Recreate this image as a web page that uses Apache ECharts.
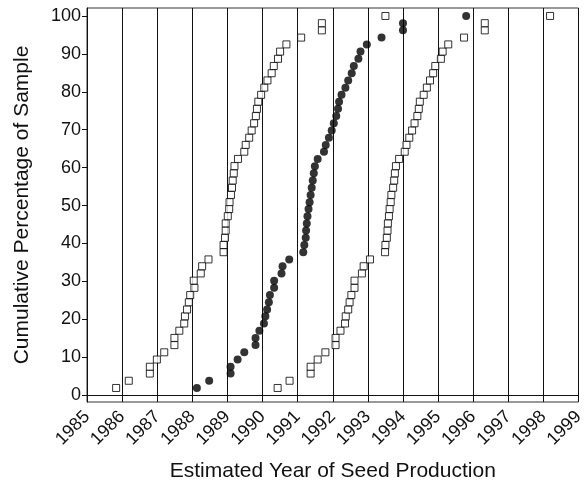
<!DOCTYPE html>
<html>
<head>
<meta charset="utf-8">
<title>Estimated Year of Seed Production</title>
<script src="https://cdn.jsdelivr.net/npm/echarts@6/dist/echarts.min.js"></script>
<style>
  html, body { margin: 0; padding: 0; background: #fff; }
  #chart { width: 587px; height: 487px; }
</style>
</head>
<body>
<div id="chart"></div>
<script>
// cumulative percentage of sample (same steps for each series)
const cumPercent = [1.9, 3.8, 5.7, 7.5, 9.4, 11.3, 13.2, 15.1, 17.0, 18.9, 20.8, 22.6, 24.5, 26.4, 28.3,
  30.2, 32.1, 34.0, 35.8, 37.7, 39.6, 41.5, 43.4, 45.3, 47.2, 49.1, 50.9, 52.8, 54.7, 56.6, 58.5, 60.4,
  62.3, 64.2, 66.0, 67.9, 69.8, 71.7, 73.6, 75.5, 77.4, 79.2, 81.1, 83.0, 84.9, 86.8, 88.7, 90.6, 92.5,
  94.3, 96.2, 98.1, 100]

// estimated year, open squares (early group)
const yearsEarly = [1985.83, 1986.19, 1986.79, 1986.79, 1986.99, 1987.20, 1987.49, 1987.49, 1987.63, 1987.77,
  1987.79, 1987.85, 1987.90, 1987.94, 1988.06, 1988.04, 1988.24, 1988.28, 1988.46, 1988.89,
  1988.89, 1988.93, 1988.95, 1988.95, 1989.01, 1989.05, 1989.06, 1989.10, 1989.13, 1989.15,
  1989.18, 1989.20, 1989.30, 1989.48, 1989.52, 1989.62, 1989.69, 1989.76, 1989.81, 1989.84,
  1989.88, 1989.96, 1990.05, 1990.14, 1990.26, 1990.32, 1990.44, 1990.50, 1990.68, 1991.10,
  1991.69, 1991.69, 1993.50]

// estimated year, filled circles
const yearsMid = [1988.13, 1988.48, 1989.09, 1989.09, 1989.29, 1989.48, 1989.80, 1989.80, 1989.91, 1990.04,
  1990.08, 1990.13, 1990.18, 1990.21, 1990.33, 1990.33, 1990.54, 1990.57, 1990.76, 1991.16,
  1991.19, 1991.23, 1991.24, 1991.26, 1991.28, 1991.31, 1991.34, 1991.37, 1991.40, 1991.43,
  1991.46, 1991.49, 1991.57, 1991.75, 1991.80, 1991.89, 1991.97, 1992.03, 1992.10, 1992.15,
  1992.18, 1992.25, 1992.36, 1992.44, 1992.54, 1992.60, 1992.73, 1992.79, 1992.97, 1993.39,
  1994.00, 1994.00, 1995.80]

// estimated year, open squares (late group)
const yearsLate = [1990.43, 1990.77, 1991.37, 1991.37, 1991.57, 1991.79, 1992.08, 1992.08, 1992.22, 1992.35,
  1992.37, 1992.44, 1992.48, 1992.53, 1992.62, 1992.62, 1992.83, 1992.88, 1993.06, 1993.49,
  1993.50, 1993.54, 1993.56, 1993.57, 1993.60, 1993.62, 1993.65, 1993.67, 1993.72, 1993.75,
  1993.77, 1993.80, 1993.89, 1994.05, 1994.10, 1994.18, 1994.26, 1994.33, 1994.41, 1994.45,
  1994.48, 1994.59, 1994.68, 1994.77, 1994.86, 1994.92, 1995.08, 1995.13, 1995.29, 1995.74,
  1996.33, 1996.33, 1998.19]

const yTicks = [0, 10, 20, 30, 40, 50, 60, 70, 80, 90, 100]

const font = 'Liberation Sans, Arial, Helvetica, sans-serif'

const pairs = (xs) => xs.map((x, i) => [x, cumPercent[i]])

const squareStyle = { color: '#fff', borderColor: '#000', borderWidth: 1 }

const chart = echarts.init(document.getElementById('chart'), null, { renderer: 'canvas' })
chart.setOption({
  animation: false,
  backgroundColor: '#fff',
  grid: { left: 87, right: 7, top: 8, bottom: 83, show: true, borderColor: '#333', borderWidth: 1 },
  xAxis: {
    type: 'value',
    min: 1985,
    max: 1999,
    interval: 1,
    name: 'Estimated Year of Seed Production',
    nameLocation: 'middle',
    nameGap: 59,
    nameTextStyle: { fontFamily: font, fontSize: 21, color: '#111' },
    axisLine: { lineStyle: { color: '#111', width: 1 } },
    axisTick: { show: true, length: 4, lineStyle: { color: '#111' } },
    axisLabel: {
      rotate: 45,
      margin: 12,
      fontFamily: font,
      fontSize: 18,
      color: '#111',
      formatter: (v) => String(v)
    },
    splitLine: { show: true, lineStyle: { color: '#111', width: 1 } }
  },
  yAxis: {
    type: 'value',
    min: -1.8,
    max: 102.1,
    name: 'Cumulative Percentage of Sample',
    nameLocation: 'middle',
    nameGap: 54,
    nameTextStyle: { fontFamily: font, fontSize: 21, color: '#111' },
    axisLine: { show: true, lineStyle: { color: '#111', width: 1 } },
    axisTick: { show: true, length: 5, customValues: yTicks, lineStyle: { color: '#111' } },
    axisLabel: { margin: 6, customValues: yTicks, fontFamily: font, fontSize: 18, color: '#111' },
    splitLine: { show: false }
  },
  series: [
    {
      name: 'early',
      type: 'scatter',
      symbol: 'rect',
      symbolSize: 7,
      itemStyle: squareStyle,
      data: pairs(yearsEarly)
    },
    {
      name: 'mid',
      type: 'scatter',
      symbol: 'circle',
      symbolSize: 8,
      itemStyle: { color: '#000' },
      data: pairs(yearsMid)
    },
    {
      name: 'late',
      type: 'scatter',
      symbol: 'rect',
      symbolSize: 7,
      itemStyle: squareStyle,
      data: pairs(yearsLate)
    }
  ]
})
</script>
</body>
</html>
